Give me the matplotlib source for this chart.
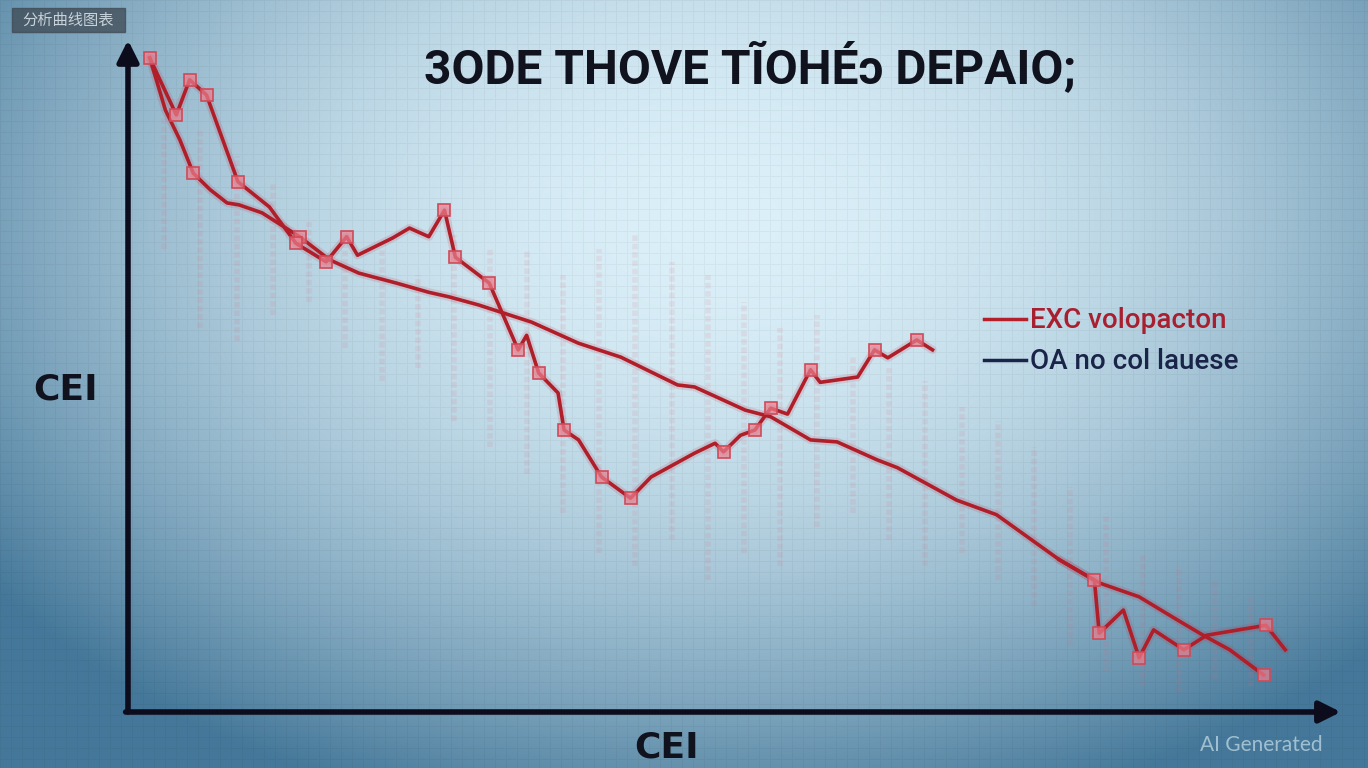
import numpy as np
import matplotlib
matplotlib.use("Agg")
import matplotlib.pyplot as plt
from matplotlib.lines import Line2D
from matplotlib.patches import Rectangle

# 数据
x_a = [1.8, 3.1, 4.3, 5.4, 6.8, 8.2, 9.2, 11.1, 12.3, 14.2, 16.7, 19.1, 22.2, 24.9, 26.6,
       29.0, 33.4, 37.3, 40.8, 45.5, 46.9, 51.1, 53.2, 56.5, 58.7, 62.0, 63.7, 68.6, 71.9,
       77.1, 80.4, 83.7, 86.6, 89.0, 91.2, 94.0]
y_a = [98.8, 90.9, 86.4, 81.4, 78.9, 76.9, 76.6, 75.4, 74.0, 71.8, 68.3, 66.3, 64.8, 63.4, 62.7,
       61.5, 58.9, 55.7, 53.6, 49.4, 49.1, 45.6, 44.6, 41.1, 40.8, 38.1, 36.9, 32.0, 29.8,
       23.0, 19.5, 17.4, 14.2, 11.6, 9.4, 5.6]

x_b = [1.8, 4.0, 5.1, 6.5, 9.1, 11.7, 13.9, 16.4, 18.1, 19.0, 21.9, 23.3, 24.9, 26.2, 27.1,
       29.9, 32.3, 33.0, 34.0, 35.6, 36.1, 37.3, 39.2, 41.6, 43.3, 46.9, 48.6, 49.3, 50.7,
       51.9, 53.2, 54.6, 56.5, 57.3, 60.4, 61.8, 62.9, 65.3, 66.6, 72.0,
       77.1, 80.0, 80.4, 82.4, 83.7, 84.9, 87.4, 89.3, 94.2, 95.8]
y_b = [98.8, 90.2, 95.5, 93.2, 80.1, 76.3, 70.8, 68.0, 71.8, 69.0, 71.6, 73.1, 71.8, 75.8, 68.7,
       64.8, 54.7, 56.9, 51.2, 48.2, 42.6, 41.1, 35.5, 32.3, 35.5, 39.1, 40.6, 39.3, 41.8,
       42.6, 45.9, 45.0, 51.7, 49.8, 50.6, 54.7, 53.5, 56.2, 54.7, np.nan,
       23.0, 19.9, 11.9, 15.4, 8.2, 12.4, 9.4, 11.6, 13.1, 9.4]

# 背景中淡红色竖条
streak_x = [3, 6, 9, 12, 15, 18, 21, 24, 27, 30, 33, 36, 39, 42, 45, 48, 51, 54, 57, 60,
            63, 66, 69, 72, 75, 78, 81, 84, 87, 90, 93]
streak_lo = [70, 58, 56, 60, 62, 55, 50, 52, 44, 40, 36, 30, 24, 22, 26, 20, 24, 22, 28, 30,
             26, 22, 24, 20, 16, 10, 6, 4, 3, 5, 4]
streak_hi = [90, 88, 84, 80, 74, 72, 70, 66, 72, 70, 70, 66, 70, 72, 68, 66, 62, 58, 60, 54,
             52, 50, 46, 44, 40, 34, 30, 24, 22, 20, 18]

title = "3ODE THOVE TĨOHÉɔ DEPAIO;"
legend_labels = ["EXC volopacton", "OA no col lauese"]

fig = plt.figure(figsize=(13.68, 7.68), dpi=100)

# 背景渐变 + 细网格
H, W = 768, 1368
yy, xx = np.mgrid[0:H, 0:W]
d = np.sqrt(((xx - 720) / 900.0) ** 2 + ((yy - 220) / 620.0) ** 2)
t = np.clip(d, 0, 1) ** 1.9
light = np.array([0.86, 0.94, 0.975])
dark = np.array([0.27, 0.47, 0.60])
img = light * (1 - t)[..., None] + dark * t[..., None]
grid = ((xx % 11) == 0) | ((yy % 11) == 0)
img[grid] *= 0.96
bg = fig.add_axes([0, 0, 1, 1], zorder=-1)
bg.imshow(img, aspect="auto", interpolation="bilinear")
bg.axis("off")

ax = fig.add_axes([128 / W, 1 - 712 / H, 1208 / W, 662 / H])
ax.set_xlim(0, 100)
ax.set_ylim(0, 100)
ax.patch.set_alpha(0)
for s in ax.spines.values():
    s.set_visible(False)
ax.set_xticks([])
ax.set_yticks([])

# 淡红竖条
ax.vlines(streak_x, streak_lo, streak_hi, color="#e06a7a", alpha=0.12,
          linewidth=4, linestyles=(0, (1, 0.5)))

red = "#b01e2a"
# 发光底层
ax.plot(x_a, y_a, color="#c03040", linewidth=6, alpha=0.15, solid_capstyle="round")
ax.plot(x_b, y_b, color="#c03040", linewidth=6, alpha=0.15, solid_capstyle="round")
ax.plot(x_a, y_a, color=red, linewidth=2.6, marker="s", markersize=8,
        markevery=[3, 9, 35], markerfacecolor=(0.92, 0.5, 0.56, 0.7),
        markeredgecolor="#d04a58", markeredgewidth=1.2)
ax.plot(x_b, y_b, color=red, linewidth=2.6, marker="s", markersize=8,
        markevery=[0, 1, 2, 3, 4, 6, 7, 8, 13, 14, 15, 16, 18, 20, 22, 23, 27, 29, 30, 32,
                   35, 37, 41, 42, 44, 46, 48],
        markerfacecolor=(0.92, 0.5, 0.56, 0.7),
        markeredgecolor="#d04a58", markeredgewidth=1.2)

# 坐标轴箭头
axis_col = "#0c0c1c"
ax.annotate("", xy=(0, 1.015), xytext=(0, 0), xycoords="axes fraction",
            arrowprops=dict(arrowstyle="-|>", lw=4, color=axis_col, mutation_scale=32,
                            shrinkA=0, shrinkB=0))
ax.annotate("", xy=(1.004, 0), xytext=(-0.002, 0), xycoords="axes fraction",
            arrowprops=dict(arrowstyle="-|>", lw=4, color=axis_col, mutation_scale=32,
                            shrinkA=0, shrinkB=0))

# 图例
custom_legend = [
    Line2D([0], [0], color="#b3202c", linewidth=2.5),
    Line2D([0], [0], color="#1a2448", linewidth=2.5),
]
leg = ax.legend(custom_legend, legend_labels, loc="center left",
                bbox_to_anchor=(0.688, 0.56), frameon=False, handlelength=1.5,
                handletextpad=0.15, labelspacing=0.5,
                labelcolor=["#a82030", "#1a2448"],
                prop={"family": ["Roboto", "DejaVu Sans"], "size": 20, "weight": "medium"})

# 标题与坐标轴标签
fig.text(750 / W, 1 - 68 / H, title, ha="center", va="center", fontsize=34.5,
         fontweight="bold", color="#10121e",
         family=["Roboto", "DejaVu Sans"])
fig.text(66 / W, 1 - 390 / H, "CEI", ha="center", va="center", fontsize=26,
         fontweight="bold", color="#10121e")
fig.text(667 / W, 1 - 748 / H, "CEI", ha="center", va="center", fontsize=26,
         fontweight="bold", color="#10121e")

# 左上角小标签
fig.patches.append(Rectangle((12 / W, 1 - 32 / H), 113 / W, 24 / H,
                             transform=fig.transFigure, color="#3e4852", alpha=0.75))
fig.text(68 / W, 1 - 20 / H, "分析曲线图表", ha="center", va="center", fontsize=11,
         color="#c8d2da", family=["Noto Sans CJK SC", "DejaVu Sans"])

fig.text(1200 / W, 1 - 745 / H, "AI Generated", ha="left", va="center", fontsize=15,
         color="#b8d2de", alpha=0.8, family=["Lato", "DejaVu Sans"])

plt.savefig("out.png", dpi=100)
